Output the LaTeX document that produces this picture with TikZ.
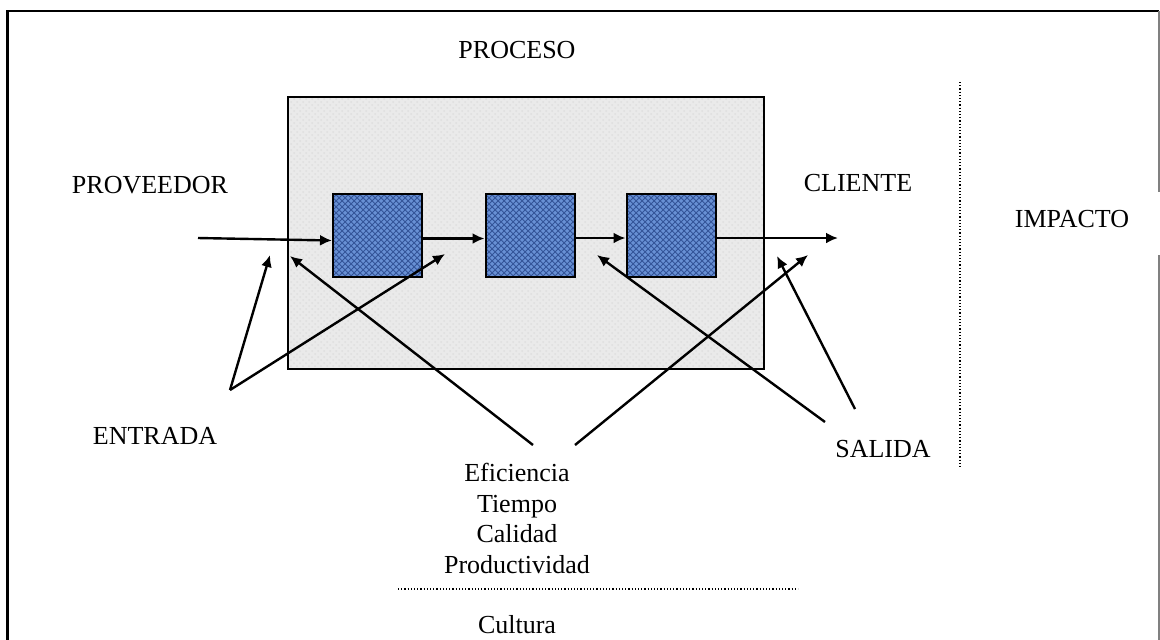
\documentclass[tikz,border=0pt]{standalone}
\usepackage{fontspec}
\setmainfont{Liberation Serif}
\usetikzlibrary{arrows.meta,patterns}
\definecolor{boxblue}{RGB}{104,144,212}
\definecolor{boxnavy}{RGB}{52,84,152}
\definecolor{procgray}{RGB}{234,234,234}
\tikzset{
	lbl/.style={font=\fontsize{13}{15.25}\selectfont, inner sep=0pt},
	stage/.style={draw, line width=1pt, preaction={fill=boxblue}, pattern=crosshatch, pattern color=boxnavy, minimum width=44.5pt, minimum height=41.5pt, inner sep=0pt},
	procbox/.style={draw, line width=1pt, preaction={fill=procgray}, pattern=crosshatch dots, pattern color=gray!25, minimum width=238pt, minimum height=136pt, inner sep=0pt},
	flecha/.style={line width=1.2pt, -{Latex[length=6pt,width=5.5pt]}},
	punteada/.style={line width=0.6pt, densely dotted}
}
\begin{document}
\begin{tikzpicture}[x=0.5pt,y=-0.5pt]
		\useasboundingbox (0,0) rectangle (1160,639);
		\clip (0,0) rectangle (1160,639);
		% marco
		\draw [line width=1.4pt] (7.5,660) to (7.5,11) to (1159,11);
		\draw [line width=1.2pt, gray] (1159,11) to (1159,192);
		\draw [line width=1.2pt, gray] (1159,255) to (1159,660);

		\node [procbox] (proc) at (526,233) {};
		\node [stage] (s1) at (377.5,235.5) {};
		\node [stage] (s2) at (530,235.5) {};
		\node [stage] (s3) at (671,235.5) {};

		\node [lbl] (proceso) at (517,50) {PROCESO};
		\node [lbl] (proveedor) at (150,185) {PROVEEDOR};
		\node [lbl] (cliente) at (858,183) {CLIENTE};
		\node [lbl] (impacto) at (1072,219) {IMPACTO};
		\node [lbl] (entrada) at (155,436) {ENTRADA};
		\node [lbl] (salida) at (883,449) {SALIDA};
		\node [lbl, align=center, anchor=north] (medidas) at (517,463) {Eficiencia\\Tiempo\\Calidad\\Productividad};
		\node [lbl] (cultura) at (517,625) {Cultura};

		\coordinate (ini) at (198,238);
		\coordinate (fin) at (838,238);
		\coordinate (e0) at (230,390);
		\coordinate (e1) at (270,255);
		\coordinate (e2) at (445,254);
		\coordinate (m1) at (533,445);
		\coordinate (m2) at (575,445);
		\coordinate (f1) at (290,256);
		\coordinate (f2) at (808,255);
		\coordinate (a1) at (825,422);
		\coordinate (a2) at (855,409);
		\coordinate (t1) at (597,255);
		\coordinate (t2) at (777,256);

		% flujo
		\draw [flecha] (ini) to ([yshift=-2.5pt]s1.west);
		\draw [flecha] ([yshift=-1.5pt]s1.east) to ([yshift=-1.5pt]s2.west);
		\draw [flecha] ([yshift=-1.25pt]s2.east) to ([yshift=-1.25pt]s3.west);
		\draw [flecha] ([yshift=-1.25pt]s3.east) to (fin);

		\draw [flecha] (e0) to (e1);
		\draw [flecha] (e0) to (e2);
		\draw [flecha] (m1) to (f1);
		\draw [flecha] (m2) to (f2);
		\draw [flecha] (a1) to (t1);
		\draw [flecha] (a2) to (t2);

		\draw [punteada] (398,589) to (798,589);
		\draw [punteada] (960,82) to (960,467);
\end{tikzpicture}
\end{document}
